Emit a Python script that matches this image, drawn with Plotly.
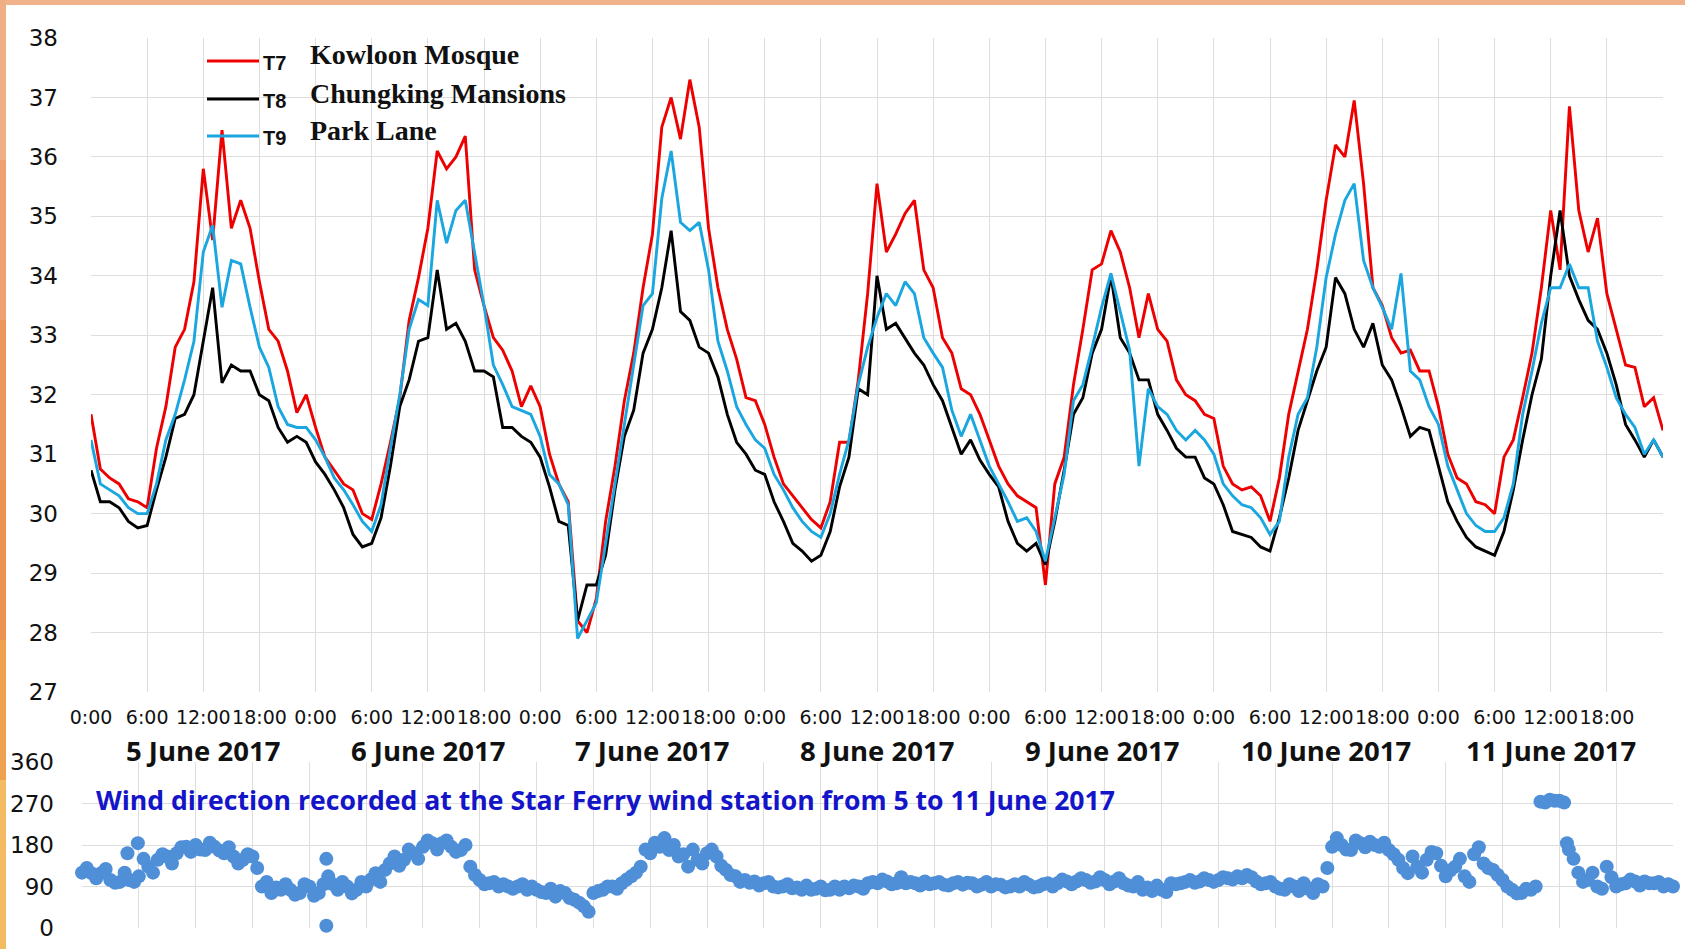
import plotly.graph_objects as go

W, H = 1685, 949

# Hourly samples from 5 June 2017 00:00 to 12 June 2017 00:00
hours = list(range(169))

t7_kowloon_mosque = [
    31.67, 30.75, 30.6, 30.5, 30.25, 30.2, 30.1, 31.1, 31.8, 32.8, 33.1, 33.9,
    35.8, 34.6, 36.45, 34.8, 35.27, 34.8, 33.9, 33.1, 32.9, 32.4, 31.7, 32.0,
    31.45, 30.95, 30.73, 30.5, 30.4, 30.0, 29.9, 30.5, 31.2, 31.95, 33.25, 33.97,
    34.8, 36.1, 35.8, 36.0, 36.35, 34.1, 33.5, 32.96, 32.75, 32.4, 31.8, 32.15,
    31.8, 31.0, 30.5, 30.2, 28.2, 28.0, 28.57, 29.87, 30.8, 31.9, 32.7, 33.8,
    34.7, 36.5, 37.0, 36.3, 37.3, 36.5, 34.8, 33.8, 33.1, 32.6, 31.95, 31.9,
    31.5, 30.95, 30.5, 30.3, 30.1, 29.9, 29.76, 30.2, 31.2, 31.2, 32.25, 33.7,
    35.55, 34.4, 34.7, 35.05, 35.27, 34.1, 33.8, 32.96, 32.7, 32.1, 32.0, 31.67,
    31.24, 30.8, 30.5, 30.3, 30.2, 30.1, 28.8, 30.5, 30.95, 32.17, 33.1, 34.1,
    34.2, 34.76, 34.4, 33.8, 32.96, 33.7, 33.1, 32.9, 32.25, 32.0, 31.9, 31.67,
    31.6, 30.8, 30.5, 30.4, 30.45, 30.3, 29.87, 30.6, 31.67, 32.4, 33.1, 34.1,
    35.27, 36.2, 36.0, 36.95, 35.55, 33.8, 33.5, 32.96, 32.7, 32.75, 32.4, 32.4,
    31.8, 31.0, 30.6, 30.5, 30.2, 30.15, 30.0, 30.95, 31.24, 31.95, 32.7, 33.8,
    35.1, 34.1, 36.85, 35.1, 34.4, 34.97, 33.7, 33.1, 32.5, 32.46, 31.8, 31.95,
    31.4,
]

t8_chungking_mansions = [
    30.73, 30.2, 30.2, 30.1, 29.87, 29.76, 29.8, 30.4, 30.95, 31.6, 31.67, 32.0,
    32.9, 33.8, 32.2, 32.5, 32.4, 32.4, 32.0, 31.9, 31.45, 31.2, 31.3, 31.2,
    30.87, 30.66, 30.4, 30.1, 29.65, 29.44, 29.5, 29.93, 30.8, 31.8, 32.25, 32.9,
    32.96, 34.1, 33.1, 33.2, 32.9, 32.4, 32.4, 32.3, 31.45, 31.45, 31.3, 31.2,
    30.95, 30.45, 29.87, 29.8, 28.2, 28.8, 28.8, 29.3, 30.4, 31.3, 31.74, 32.7,
    33.1, 33.8, 34.76, 33.4, 33.25, 32.8, 32.7, 32.3, 31.67, 31.2, 31.0, 30.73,
    30.66, 30.2, 29.87, 29.5, 29.37, 29.2, 29.3, 29.7, 30.45, 30.95, 32.1, 32.0,
    34.0, 33.1, 33.2, 32.96, 32.7, 32.5, 32.17, 31.9, 31.45, 31.0, 31.24, 30.9,
    30.66, 30.45, 29.87, 29.5, 29.37, 29.5, 29.14, 29.87, 30.73, 31.67, 31.95, 32.7,
    33.1, 34.0, 32.96, 32.7, 32.25, 32.25, 31.67, 31.4, 31.1, 30.95, 30.95, 30.6,
    30.5, 30.15, 29.7, 29.65, 29.6, 29.44, 29.37, 29.93, 30.6, 31.4, 31.9, 32.4,
    32.8, 33.97, 33.7, 33.1, 32.8, 33.2, 32.5, 32.25, 31.8, 31.3, 31.45, 31.4,
    30.8, 30.2, 29.87, 29.6, 29.44, 29.37, 29.3, 29.7, 30.4, 31.24, 32.0, 32.6,
    34.0, 35.1, 34.0, 33.6, 33.25, 33.1, 32.7, 32.17, 31.5, 31.24, 30.95, 31.24,
    30.95,
]

t9_park_lane = [
    31.24, 30.5, 30.4, 30.3, 30.1, 30.0, 30.0, 30.5, 31.24, 31.67, 32.25, 32.9,
    34.4, 34.85, 33.47, 34.26, 34.2, 33.47, 32.8, 32.46, 31.8, 31.5, 31.45, 31.45,
    31.24, 30.95, 30.6, 30.4, 30.15, 29.87, 29.7, 30.15, 31.1, 32.0, 33.1, 33.6,
    33.5, 35.27, 34.55, 35.1, 35.27, 34.4, 33.5, 32.5, 32.17, 31.8, 31.74, 31.67,
    31.3, 30.66, 30.5, 30.15, 27.9, 28.2, 28.5, 29.5, 30.5, 31.45, 32.5, 33.5,
    33.7, 35.3, 36.1, 34.9, 34.76, 34.9, 34.1, 32.9, 32.4, 31.8, 31.5, 31.24,
    31.1, 30.66, 30.4, 30.1, 29.87, 29.7, 29.6, 30.0, 30.66, 31.24, 32.17, 32.8,
    33.3, 33.7, 33.5, 33.9, 33.7, 32.96, 32.7, 32.46, 31.74, 31.3, 31.67, 31.24,
    30.8, 30.5, 30.2, 29.87, 29.93, 29.7, 29.2, 29.93, 30.66, 31.9, 32.17, 32.8,
    33.47, 34.04, 33.4, 32.75, 30.8, 32.1, 31.8, 31.67, 31.4, 31.24, 31.4, 31.24,
    31.0, 30.5, 30.3, 30.15, 30.1, 29.93, 29.65, 29.87, 30.95, 31.67, 31.95, 32.8,
    33.97, 34.7, 35.27, 35.55, 34.26, 33.8, 33.47, 33.1, 34.04, 32.4, 32.25, 31.8,
    31.5, 30.8, 30.4, 30.0, 29.8, 29.7, 29.7, 29.93, 30.5, 31.67, 32.4, 33.2,
    33.8, 33.8, 34.2, 33.8, 33.8, 32.9, 32.46, 31.95, 31.67, 31.45, 31.0, 31.24,
    30.95,
]

# Star Ferry wind direction (degrees), on the hour
wind_dir = [
    120, 119, 119, 104, 100, 104, 112, 133, 148, 155, 162, 176,
    180, 169, 176, 162, 155, 148, 155, 90, 76, 83, 83, 76,
    90, 76, 112, 83, 90, 83, 90, 119, 126, 155, 148, 162,
    176, 184, 184, 176, 169, 133, 104, 97, 90, 90, 90, 83,
    83, 76, 68, 76, 61, 47, 76, 83, 90, 97, 112, 133,
    162, 176, 169, 155, 133, 148, 162, 155, 126, 112, 104, 101,
    97, 90, 90, 86, 83, 83, 90, 83, 83, 86, 90, 97,
    97, 101, 97, 97, 97, 101, 97, 94, 97, 94, 97, 94,
    90, 94, 90, 90, 94, 90, 97, 97, 101, 101, 104, 101,
    104, 101, 97, 90, 83, 80, 83, 97, 97, 104, 101, 104,
    104, 108, 112, 115, 101, 97, 90, 83, 90, 97, 76, 90,
    176, 180, 169, 184, 187, 176, 169, 148, 119, 133, 148, 162,
    112, 133, 112, 160, 140, 126, 104, 83, 76, 83, 274, 278,
    276, 170, 120, 104, 90, 133, 90, 97, 101, 101, 97, 90,
    90,
]

# Star Ferry wind direction (degrees), on the half hour
half_hours = [h + 0.5 for h in range(168)]
wind_dir_half = [
    130, 108, 128, 98, 120, 100, 150, 120, 160, 140, 175, 165,
    170, 185, 168, 175, 140, 160, 130, 100, 88, 95, 72, 95,
    70, 95, 95, 100, 75, 100, 105, 100, 140, 135, 170, 150,
    190, 170, 190, 165, 180, 115, 95, 100, 95, 85, 95, 90,
    78, 85, 80, 65, 55, 35, 80, 90, 85, 105, 120, 170,
    185, 195, 180, 160, 170, 140, 170, 135, 115, 100, 98, 92,
    100, 88, 95, 88, 92, 85, 82, 90, 90, 92, 85, 100,
    105, 95, 110, 100, 92, 95, 100, 92, 100, 98, 90, 100,
    95, 88, 95, 100, 88, 95, 90, 105, 95, 108, 98, 110,
    95, 108, 92, 100, 88, 92, 78, 95, 100, 98, 108, 100,
    110, 105, 108, 110, 95, 100, 85, 95, 80, 85, 95, 130,
    195, 170, 190, 175, 180, 185, 160, 130, 155, 120, 165, 135,
    125, 150, 100, 175, 130, 115, 90, 75, 85, 90, 272, 276,
    272, 150, 100, 120, 85, 110, 95, 105, 92, 97, 100, 95,
]

# Isolated readings away from the main band
wind_extra_hours = [4.8, 5.9, 25.8, 25.8, 156.8]
wind_extra_dir = [162, 184, 5, 150, 184]

tick_hours = list(range(0, 169, 6))
tick_text = (["0:00", "6:00", "12:00", "18:00"] * 7) + [""]
day_labels = ["5 June 2017", "6 June 2017", "7 June 2017", "8 June 2017",
              "9 June 2017", "10 June 2017", "11 June 2017"]
day_noon = [12, 36, 60, 84, 108, 132, 156]

series = [
    ("T7", "Kowloon Mosque", t7_kowloon_mosque, "#EE0000"),
    ("T8", "Chungking Mansions", t8_chungking_mansions, "#000000"),
    ("T9", "Park Lane", t9_park_lane, "#1AA6DF"),
]


def px(x):
    return x / W


def py(y):
    return 1 - y / H


fig = go.Figure()

for code, name, vals, color in series:
    fig.add_trace(go.Scatter(
        x=hours, y=vals, mode="lines", name=name,
        line=dict(color=color, width=2.9),
        xaxis="x", yaxis="y", showlegend=False,
    ))

fig.add_trace(go.Scatter(
    x=hours + half_hours + wind_extra_hours,
    y=wind_dir + wind_dir_half + wind_extra_dir,
    mode="markers",
    marker=dict(color="#4F8FD8", size=14),
    xaxis="x2", yaxis="y2", showlegend=False, cliponaxis=False,
))

grid = "#DEDEDE"
num_font = dict(family="DejaVu Sans", size=23, color="#111111")

fig.update_layout(
    width=W, height=H,
    margin=dict(l=0, r=0, t=0, b=0, autoexpand=False),
    paper_bgcolor="white", plot_bgcolor="white",
    xaxis=dict(
        domain=[px(91), px(1663)], range=[0, 168],
        tickvals=tick_hours, ticktext=tick_text, tickangle=0,
        tickfont=dict(family="DejaVu Sans", size=19, color="#111111"),
        showgrid=True, gridcolor=grid, gridwidth=1,
        zeroline=False, showline=False, ticks="", ticklabelstandoff=12,
        anchor="y", automargin=False,
    ),
    yaxis=dict(
        domain=[py(692), py(38)], range=[27, 38], dtick=1,
        tickfont=num_font,
        showgrid=True, gridcolor=grid, gridwidth=1,
        zeroline=False, showline=False, ticks="", ticklabelstandoff=32,
        anchor="x", automargin=False,
    ),
    xaxis2=dict(
        domain=[px(82), px(1673)], range=[0, 168],
        tickvals=tick_hours, showticklabels=False,
        showgrid=True, gridcolor=grid, gridwidth=1,
        zeroline=False, showline=False, ticks="",
        anchor="y2", automargin=False,
    ),
    yaxis2=dict(
        domain=[py(928), py(762)], range=[0, 360],
        tickvals=[0, 90, 180, 270, 360],
        tickfont=num_font,
        showgrid=True, gridcolor=grid, gridwidth=1,
        zeroline=False, showline=False, ticks="", ticklabelstandoff=27,
        anchor="x2", automargin=False,
    ),
)

annotations = []
shapes = []

# Day captions under the time ticks
for lab, xh in zip(day_labels, day_noon):
    annotations.append(dict(
        text=lab, x=xh, xref="x", y=py(750), yref="paper",
        xanchor="center", yanchor="middle", showarrow=False,
        font=dict(family="Open Sans", size=27.5, color="#111111", weight="bold"),
    ))

# Wind panel caption
annotations.append(dict(
    text="Wind direction recorded at the Star Ferry wind station from 5 to 11 June 2017",
    x=px(94), xref="paper", y=py(800), yref="paper",
    xanchor="left", yanchor="middle", showarrow=False,
    font=dict(family="Open Sans", size=26.6, color="#1414C8", weight="bold"),
))

# Legend block in the upper left of the temperature panel
leg_y = [61, 99, 136]
for (code, name, vals, color), ly in zip(series, leg_y):
    shapes.append(dict(type="line", xref="paper", yref="paper",
                       x0=px(207), x1=px(259), y0=py(ly), y1=py(ly),
                       line=dict(color=color, width=2.9)))
    annotations.append(dict(
        text=code, x=px(261), xref="paper", y=py(ly + 2), yref="paper",
        xanchor="left", yanchor="middle", showarrow=False,
        font=dict(family="Liberation Sans", size=20, color="#111111", weight="bold"),
    ))
    annotations.append(dict(
        text=name, x=px(308), xref="paper", y=py(ly - 6), yref="paper",
        xanchor="left", yanchor="middle", showarrow=False,
        font=dict(family="Liberation Serif", size=28, color="#111111", weight="bold"),
    ))

# Orange frame along the top and left edges
shapes.append(dict(type="rect", xref="paper", yref="paper",
                   x0=0, x1=1, y0=py(5), y1=1,
                   fillcolor="#EFB28A", line=dict(width=0), layer="above"))
left_bands = [
    (0, 160, "#EFAE84"), (160, 320, "#EEA270"), (320, 480, "#EC955C"),
    (480, 640, "#EC9350"), (640, 780, "#EFA050"), (780, 949, "#F5BB62"),
]
for y0, y1, col in left_bands:
    shapes.append(dict(type="rect", xref="paper", yref="paper",
                       x0=0, x1=px(6), y0=py(y1), y1=py(y0),
                       fillcolor=col, line=dict(width=0), layer="above"))

fig.update_layout(annotations=annotations, shapes=shapes)

fig.write_html(
    "out.html",
    post_script="document.body.style.margin='0';document.body.style.overflow='hidden';",
)
